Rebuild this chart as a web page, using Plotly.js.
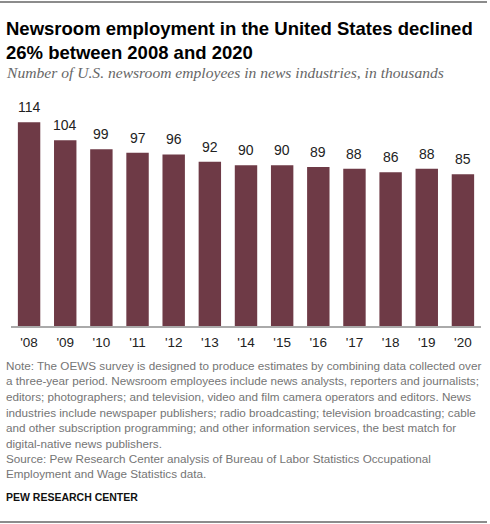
<!DOCTYPE html>
<html>
<head>
<meta charset="utf-8">
<script src="https://cdn.plot.ly/plotly-3.0.1.min.js"></script>
<style>html,body{margin:0;padding:0;background:#fff;}#chart{width:490px;height:524px;}</style>
</head>
<body>
<div id="chart"></div>
<script>
const years = ["'08","'09","'10","'11","'12","'13","'14","'15","'16","'17","'18","'19","'20"];
const employees = [114,104,99,97,96,92,90,90,89,88,86,88,85];
const valueLabels = ["114","104","99","97","96","92","90","90","89","88","86","88","85"];

const titleText = "Newsroom employment in the United States declined<br>26% between 2008 and 2020";
const subtitleText = "Number of U.S. newsroom employees in news industries, in thousands";
const noteLines = [
  "Note: The OEWS survey is designed to produce estimates by combining data collected over",
  "a three-year period. Newsroom employees include news analysts, reporters and journalists;",
  "editors; photographers; and television, video and film camera operators and editors. News",
  "industries include newspaper publishers; radio broadcasting; television broadcasting; cable",
  "and other subscription programming; and other information services, the best match for",
  "digital-native news publishers.",
  "Source: Pew Research Center analysis of Bureau of Labor Statistics Occupational",
  "Employment and Wage Statistics data."
];
const creditText = "PEW RESEARCH CENTER";

// layout geometry (pixels)
const W = 490, H = 524;
const mL = 11, mR = 9, mT = 100, mB = 198;
const plotTop = mT, plotBottom = H - mB, plotH = plotBottom - plotTop, plotW = W - mL - mR;
const py = p => (plotBottom - p) / plotH;   // pixel y -> paper y
const px = p => (p - mL) / plotW;           // pixel x -> paper x

const sans = "Liberation Sans, Arial, sans-serif";
const annotations = [];

// value labels
years.forEach((yr, i) => {
  annotations.push({
    x: yr, y: employees[i], xref: 'x', yref: 'y',
    text: valueLabels[i], showarrow: false,
    yanchor: 'middle', xanchor: 'center', yshift: 15,
    font: {family: sans, size: 14, color: '#222'}
  });
});

// title
annotations.push({
  xref: 'paper', yref: 'paper', x: px(4), y: py(40),
  xanchor: 'left', yanchor: 'middle', align: 'left',
  text: '<b>' + titleText + '</b>', showarrow: false,
  font: {family: sans, size: 18.5, color: '#000'}
});
// subtitle
annotations.push({
  xref: 'paper', yref: 'paper', x: px(4), y: py(72),
  xanchor: 'left', yanchor: 'middle', align: 'left',
  text: '<i>' + subtitleText + '</i>', showarrow: false,
  font: {family: "Liberation Serif, Georgia, serif", size: 15.6, color: '#666'}
});
// notes
const noteY = [365, 380.7, 396.7, 412.3, 427.7, 443.3, 458.3, 473.7];
noteLines.forEach((t, i) => {
  annotations.push({
    xref: 'paper', yref: 'paper', x: px(4), y: py(noteY[i]),
    xanchor: 'left', yanchor: 'middle', align: 'left',
    text: t, showarrow: false,
    font: {family: sans, size: 11.7, color: '#757575'}
  });
});
// credit
annotations.push({
  xref: 'paper', yref: 'paper', x: px(4), y: py(496.7),
  xanchor: 'left', yanchor: 'middle', align: 'left',
  text: '<b>' + creditText + '</b>', showarrow: false,
  font: {family: sans, size: 10.5, color: '#111'}
});

const shapes = [
  {type: 'line', xref: 'paper', yref: 'paper', x0: px(0), x1: px(487), y0: py(2), y1: py(2),
   line: {color: '#8c8c8c', width: 2}},
  {type: 'line', xref: 'paper', yref: 'paper', x0: px(0), x1: px(487), y0: py(522), y1: py(522),
   line: {color: '#8c8c8c', width: 2}}
];

const trace = {
  type: 'bar', x: years, y: employees,
  marker: {color: '#6e3a46', line: {width: 0}},
  hoverinfo: 'none'
};

const layout = {
  width: W, height: H,
  margin: {l: mL, r: mR, t: mT, b: mB, pad: 0},
  paper_bgcolor: '#fff', plot_bgcolor: '#fff',
  bargap: 0.38,
  showlegend: false,
  xaxis: {
    type: 'category', range: [-0.5, 12.5],
    showline: true, linecolor: '#aaa', linewidth: 2,
    ticks: '', showgrid: false, zeroline: false,
    ticklabelstandoff: 3,
    tickfont: {family: sans, size: 13.5, color: '#222'},
    fixedrange: true
  },
  yaxis: {
    range: [0, 126.5], visible: false, showgrid: false, zeroline: false, fixedrange: true
  },
  annotations: annotations,
  shapes: shapes
};

Plotly.newPlot('chart', [trace], layout, {displayModeBar: false, staticPlot: true});
</script>
</body>
</html>
